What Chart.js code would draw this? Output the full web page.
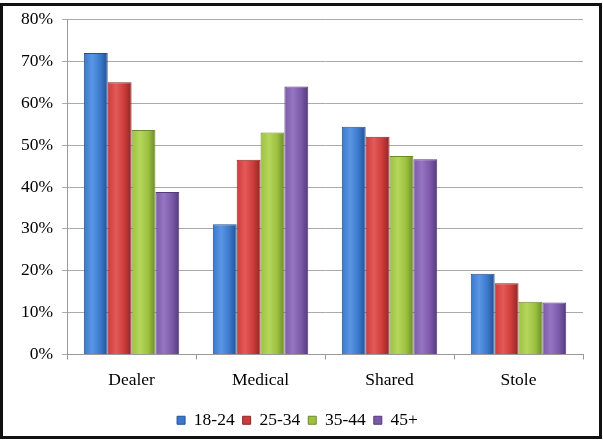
<!DOCTYPE html>
<html>
<head>
<meta charset="utf-8">
<script src="https://cdn.jsdelivr.net/npm/chart.js@4"></script>
<style>
  html, body { margin: 0; padding: 0; background: #fff; }
  #frame { position: absolute; left: 0; top: 3px; width: 602px; height: 436px; box-sizing: border-box; border: 3px solid #111; }
  #wrap { position: absolute; left: 0; top: 0; width: 603px; height: 442px; }
</style>
</head>
<body>
<div id="wrap"><canvas id="myChart" width="603" height="442"></canvas></div>
<div id="frame"></div>
<script>
// categories and series
const categories = ['Dealer', 'Medical', 'Shared', 'Stole'];
const ages = ['18-24', '25-34', '35-44', '45+'];
const age1824 = [72.0, 31.1, 54.4, 19.3];
const age2534 = [65.0, 46.5, 52.0, 17.0];
const age3544 = [53.6, 53.0, 47.4, 12.6];
const age45plus = [38.8, 64.0, 46.6, 12.4];

const colors = ['#3a78cc', '#cc3b3a', '#9cc13f', '#7b59a9'];
const lights = ['#5a96e4', '#e35a58', '#b5d65c', '#9576c2'];
const edges = ['#25508e', '#8c2625', '#6c8a2a', '#533a78'];

// glossy look: horizontal gradient on every bar
const gloss = {
    id: 'gloss',
    beforeDatasetsDraw(chart) {
        const c = chart.ctx;
        chart.data.datasets.forEach((ds, i) => {
            chart.getDatasetMeta(i).data.forEach(bar => {
                const w = bar.width, x0 = bar.x - w / 2;
                const g = c.createLinearGradient(x0, 0, x0 + w, 0);
                g.addColorStop(0, colors[i]);
                g.addColorStop(0.35, lights[i]);
                g.addColorStop(0.7, colors[i]);
                g.addColorStop(1, edges[i]);
                bar.options = Object.assign({}, bar.options, { backgroundColor: g });
            });
        });
    }
};

const serif = { family: '"Liberation Serif", "Times New Roman", serif', size: 17.5 };

const ctx = document.getElementById('myChart');
const myChart = new Chart(ctx, {
    type: 'bar',
    data: {
        labels: categories,
        datasets: [age1824, age2534, age3544, age45plus].map((d, i) => ({
            label: ages[i],
            data: d,
            backgroundColor: colors[i],
            borderColor: edges[i],
            borderWidth: 1,
            categoryPercentage: 0.74,
            barPercentage: 1.0
        }))
    },
    options: {
        responsive: false,
        animation: false,
        layout: { padding: { left: 12, right: 20, top: 12, bottom: 3 } },
        plugins: {
            legend: {
                position: 'bottom',
                labels: {
                    boxWidth: 8,
                    boxHeight: 8,
                    padding: 8,
                    color: '#000',
                    font: serif
                }
            },
            tooltip: { enabled: false }
        },
        scales: {
            x: {
                grid: { display: true, drawOnChartArea: false, offset: true, tickLength: 5, color: '#999' },
                border: { color: '#999' },
                ticks: { color: '#000', padding: 10, font: serif },
                afterFit: scale => { scale.height += 3; }
            },
            y: {
                min: 0,
                max: 80,
                grid: { color: '#aaa', tickLength: 5 },
                border: { color: '#999' },
                ticks: {
                    stepSize: 10,
                    color: '#000',
                    padding: 9,
                    font: serif,
                    callback: v => v + '%'
                }
            }
        }
    },
    plugins: [gloss]
});
</script>
</body>
</html>
